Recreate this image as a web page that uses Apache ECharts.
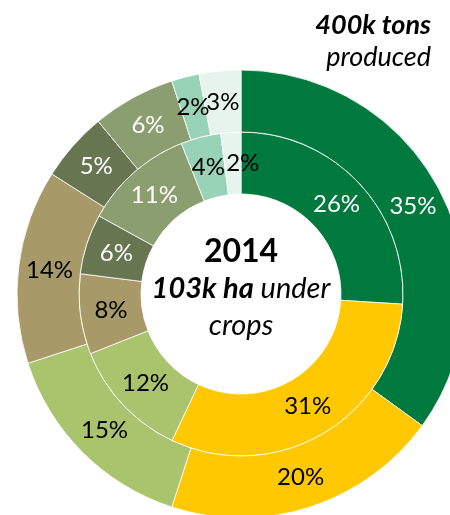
<!DOCTYPE html>
<html>
<head>
<meta charset="utf-8">
<script src="https://cdn.jsdelivr.net/npm/echarts@6/dist/echarts.min.js"></script>
<style>
  html, body { margin: 0; padding: 0; background: #fff; }
  #chart { width: 450px; height: 515px; }
</style>
</head>
<body>
<div id="chart"></div>
<script>
// Crop groups, clockwise from 12 o'clock
var categories = ['Group A', 'Group B', 'Group C', 'Group D', 'Group E', 'Group F', 'Group G', 'Group H'];
// Rings, inside out
var rings = ['Area under crops', 'Tons produced'];
// Share of cultivated area (%), inner ring
var areaShare = [26, 31, 12, 8, 6, 11, 4, 2];
// Share of production (%), outer ring
var tonsShare = [35, 20, 15, 14, 5, 6, 2, 3];

var palette = ['#00793f', '#ffc800', '#a9c46c', '#a89a68', '#677550', '#8b9e70', '#98d2b7', '#e7f3ed'];
var labelInk = ['#ffffff', '#000000', '#000000', '#000000', '#ffffff', '#ffffff', '#000000', '#000000'];

var FONT = 'Lato, "Open Sans", sans-serif';

// Each crop group is one stacked polar bar running round both rings
var series = categories.map(function (name, i) {
  var inner = { value: areaShare[i] };
  // the last, thinnest inner slice has its label nudged clear of its neighbour
  if (i === categories.length - 1) {
    inner.label = { offset: [10, 0] };
  }
  return {
    type: 'bar',
    name: name,
    coordinateSystem: 'polar',
    stack: 'share',
    barCategoryGap: '0%',
    silent: true,
    data: [inner, { value: tonsShare[i] }],
    itemStyle: { color: palette[i], borderColor: 'rgba(255,255,255,0.8)', borderWidth: 1 },
    label: {
      show: true,
      position: 'middle',
      rotate: 0,
      formatter: '{c}%',
      fontFamily: FONT,
      fontSize: 24,
      color: labelInk[i]
    },
    emphasis: { disabled: true }
  };
});

var chart = echarts.init(document.getElementById('chart'), null, { renderer: 'canvas' });
chart.setOption({
  animation: false,
  polar: { center: [241, 294], radius: [100, 224] },
  angleAxis: {
    type: 'value', min: 0, max: 100, startAngle: 90, clockwise: true,
    show: false, splitLine: { show: false }
  },
  radiusAxis: {
    type: 'category', data: rings, show: false,
    axisLine: { show: false }, axisTick: { show: false }, axisLabel: { show: false }
  },
  series: series,
  graphic: [
    {
      type: 'text', x: 241, y: 252,
      style: {
        text: '2014', align: 'center', verticalAlign: 'middle',
        fontFamily: FONT, fontWeight: 'bold', fontSize: 32, fill: '#000'
      }
    },
    {
      type: 'text', x: 241, y: 289,
      style: {
        text: '{b|103k ha}{i| under}', align: 'center', verticalAlign: 'middle',
        rich: {
          b: { fontFamily: FONT, fontWeight: 'bold', fontStyle: 'italic', fontSize: 29, fill: '#000' },
          i: { fontFamily: FONT, fontStyle: 'italic', fontSize: 29, fill: '#000' }
        }
      }
    },
    {
      type: 'text', x: 241, y: 326,
      style: {
        text: 'crops', align: 'center', verticalAlign: 'middle',
        fontFamily: FONT, fontStyle: 'italic', fontSize: 29, fill: '#000'
      }
    },
    {
      type: 'text', x: 431, y: 25,
      style: {
        text: '400k tons', align: 'right', verticalAlign: 'middle',
        fontFamily: FONT, fontWeight: 'bold', fontStyle: 'italic', fontSize: 27, fill: '#000'
      }
    },
    {
      type: 'text', x: 431, y: 57,
      style: {
        text: 'produced', align: 'right', verticalAlign: 'middle',
        fontFamily: FONT, fontStyle: 'italic', fontSize: 27, fill: '#000'
      }
    }
  ]
});
</script>
</body>
</html>
